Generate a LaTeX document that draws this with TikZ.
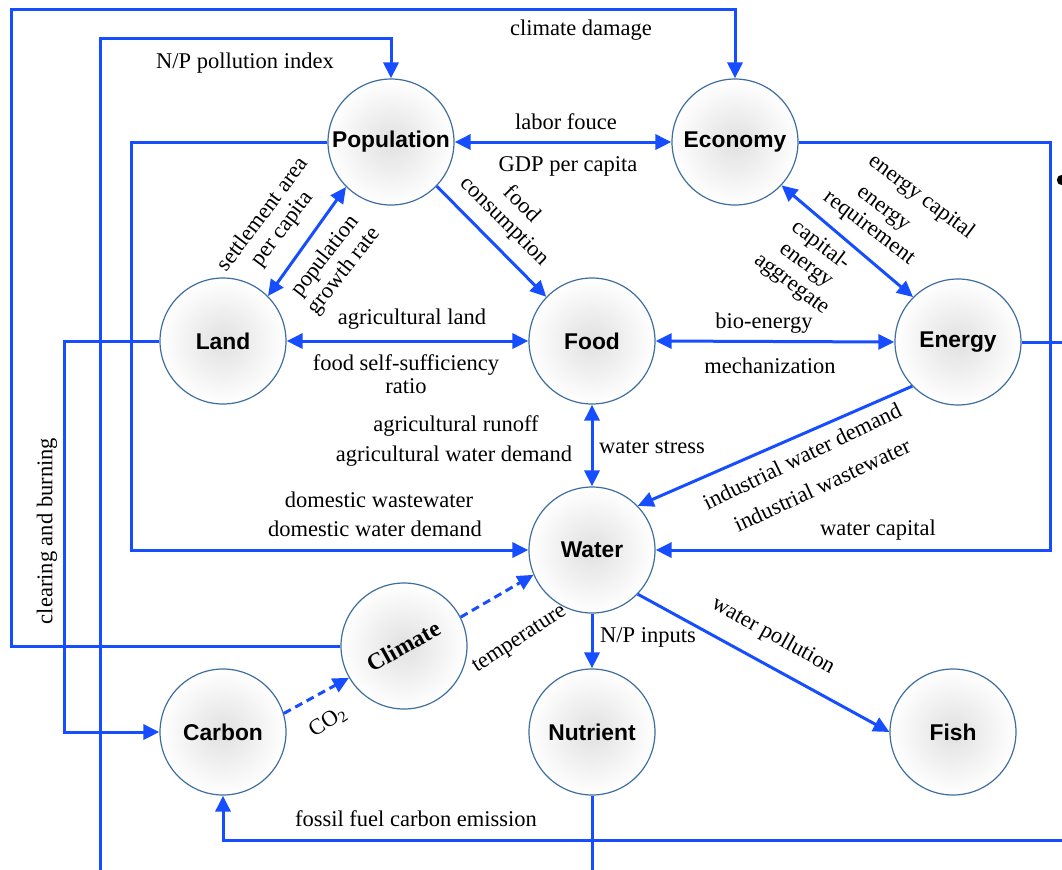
\documentclass[tikz,border=0pt]{standalone}
\usepackage{fontspec}
\setmainfont{Liberation Serif}
\newfontfamily\sansbold{Liberation Sans}
\usetikzlibrary{arrows.meta}
\definecolor{flowblue}{RGB}{22,78,255}
\definecolor{ringblue}{RGB}{62,110,160}

\begin{document}
\begin{tikzpicture}[x=0.5pt,y=-0.5pt,
  sector/.style={circle, minimum size=63pt, inner sep=0pt, draw=ringblue,
    line width=0.6pt, inner color=black!12, outer color=white,
    font=\sansbold\bfseries\fontsize{11.4}{13}\selectfont},
  tip/.tip={Triangle[length=8pt,width=7.5pt]},
  wire/.style={draw=flowblue, line width=1.5pt},
  flow/.style={wire, -tip},
  flowboth/.style={wire, tip-tip},
  dashflow/.style={flow, dash pattern=on 4pt off 2.5pt},
  lbl/.style={font=\fontsize{11.25}{12}\selectfont, align=center, inner sep=0pt}]

\useasboundingbox (0,0) rectangle (1062,869);

% sectors
\node[sector] (Population) at (391,142) {Population};
\node[sector] (Economy)    at (735,142) {Economy};
\node[sector] (Land)       at (223,341) {Land};
\node[sector] (Food)       at (592,341) {Food};
\node[sector] (Energy)     at (958,342) {Energy};
\node[sector] (Water)      at (592,550) {Water};
\node[sector, font=\bfseries\fontsize{11.8}{13}\selectfont] (Climate) at (404,646)
  {\rotatebox{29}{Climate}};
\node[sector] (Carbon)     at (223,732) {Carbon};
\node[sector] (Nutrient)   at (592,732) {Nutrient};
\node[sector] (Fish)       at (953,732) {Fish};

% loose ends running off the sheet
\coordinate (npfoot)      at (100,885);
\coordinate (energyout)   at (1075,342);
\coordinate (fossilin)    at (1075,840);
\coordinate (nutrientout) at (592,885);

% long feedback loops
\draw[flow] (Climate.west) -| (11,9.5) -| (Economy.north);
\draw[flow] (npfoot) -- (100,38) -| (Population.north);
\draw[flow] (Population.west) -| (131,550) -- (Water.west);
\draw[flow] (Economy.east) -| (1050,550) -- (Water.east);
\draw[flow] (Land.west) -| (64,732) -- (Carbon.west);
\draw[flow] (fossilin) -| (Carbon.south);
\draw[wire] (Energy.east) -- (energyout);
\draw[wire] (Nutrient.south) -- (nutrientout);

% direct links
\draw[flowboth] (Population.east) -- (Economy.west);
\draw[flowboth] (Land.45) -- (Population.225);
\draw[flow] (Population.-44) -- (Food.136);
\draw[flowboth] (Economy.-43) -- (Energy.135);
\draw[flowboth] (Land.east) -- (Food.west);
\draw[flowboth] (Food.east) -- (Energy.west);
\draw[flowboth] (Food.south) -- (Water.north);
\draw[flow] (Energy.224) -- (Water.44);
\draw[flow] (Water.south) -- (Nutrient.north);
\draw[flow] (Water.-44) -- (Fish.west);
\draw[dashflow] (Climate.27) -- (Water.203);
\draw[dashflow] (Carbon.17) -- (Climate.210);

% stray mark at the right edge
\fill (1062,180) circle[radius=2.6pt];

% labels
\node[lbl] (l1)  at (581,30)  {climate damage};
\node[lbl] (l2)  at (245,63)  {N/P pollution index};
\node[lbl] (l3)  at (566,122) {labor fouce};
\node[lbl] (l4)  at (568,166) {GDP per capita};
\node[lbl, rotate=53] (l5) at (273,222) {settlement area\\per capita};
\node[lbl, rotate=52] (l6) at (335,264) {population\\growth rate};
\node[lbl, rotate=-45] (l7) at (513,213) {food\\consumption};
\node[lbl, rotate=-37] (l8) at (921,197) {energy capital};
\node[lbl, rotate=-37] (l9) at (875,220) {energy\\requirement};
\node[lbl, rotate=-37] (l10) at (806,265) {capital-\\energy\\aggregate};
\node[lbl] (l11) at (412,319) {agricultural land};
\node[lbl, font=\fontsize{11.25}{11.5}\selectfont] (l12) at (406,374) {food self-sufficiency\\ratio};
\node[lbl] (l13) at (764,323) {bio-energy};
\node[lbl] (l14) at (770,366) {mechanization};
\node[lbl] (l15) at (456,426) {agricultural runoff};
\node[lbl] (l16) at (454,456) {agricultural water demand};
\node[lbl] (l17) at (652,447) {water stress};
\node[lbl] (l18) at (379,500) {domestic wastewater};
\node[lbl] (l19) at (375,529) {domestic water demand};
\node[lbl, rotate=26] (l20) at (802,456) {industrial water demand};
\node[lbl, rotate=25] (l21) at (822,485) {industrial wastewater};
\node[lbl] (l22) at (878,530) {water capital};
\node[lbl, rotate=90] (l23) at (47,531) {clearing and burning};
\node[lbl, rotate=33] (l24) at (520,640) {temperature};
\node[lbl, rotate=33] (l25) at (328,722) {CO\textsubscript{2}};
\node[lbl] (l26) at (648,637) {N/P inputs};
\node[lbl, rotate=-29] (l27) at (773,636) {water pollution};
\node[lbl] (l28) at (416,819) {fossil fuel carbon emission};
\end{tikzpicture}
\end{document}
